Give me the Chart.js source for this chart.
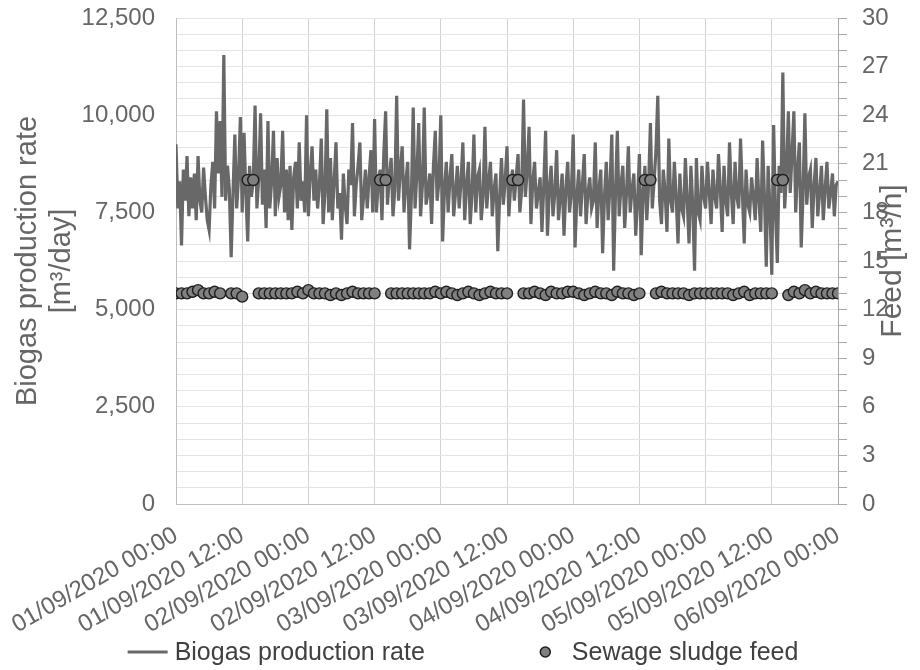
<!DOCTYPE html>
<html>
<head>
<meta charset="utf-8">
<title>Biogas production and sludge feed</title>
<script src="https://cdn.jsdelivr.net/npm/chart.js@4.4.1/dist/chart.umd.min.js"></script>
<style>
  html, body { margin: 0; padding: 0; background: #ffffff; }
  #wrap { width: 920px; height: 670px; }
</style>
</head>
<body>
<div id="wrap"><canvas id="biogasChart" width="920" height="670"></canvas></div>
<script>
// time axis: hours since 01/09/2020 00:00, ticks every 12 h
const xTickLabels = [
  '01/09/2020 00:00', '01/09/2020 12:00', '02/09/2020 00:00', '02/09/2020 12:00',
  '03/09/2020 00:00', '03/09/2020 12:00', '04/09/2020 00:00', '04/09/2020 12:00',
  '05/09/2020 00:00', '05/09/2020 12:00', '06/09/2020 00:00'
];
const biogasStepHours = 1 / 3;   // 20 min readings
const feedStepHours = 1;

// biogas production rate [m3/day], one row = 8 hours
const biogasRate = [
  9250, 7600, 8300, 6650, 8600, 7800, 8950, 7400, 8400, 7600, 8500, 7300, 8950, 7800, 7500, 8650, 7900, 7300, 7050, 8200, 8800, 7600, 10100, 8500,
  9850, 7900, 11550, 7800, 8700, 8100, 6350, 8000, 9500, 7600, 8400, 9950, 7500, 9550, 8000, 6750, 8700, 7900, 8300, 10250, 7600, 8400, 10050, 7700,
  8600, 7100, 9850, 7600, 8300, 9600, 7400, 8900, 7900, 8200, 9600, 7500, 8600, 7300, 8700, 7050, 8400, 8800, 7600, 9300, 7800, 8300, 7500, 10000,
  7400, 8500, 9200, 7800, 8600, 7600, 8200, 9400, 7200, 8000, 10150, 7500, 8900, 7300, 8300, 9300, 7600, 8000, 6800, 8500, 7700, 7200, 8600, 8200,
  9800, 7400, 8200, 8700, 9300, 7300, 7900, 8600, 7600, 8400, 9100, 7500, 9900, 7500, 8300, 8600, 7300, 9000, 10100, 7700, 8400, 8900, 7400, 8100,
  10500, 7800, 8600, 9200, 7500, 8300, 8800, 6550, 7900, 10200, 7600, 8500, 9800, 7400, 8200, 10200, 7700, 8000, 8500, 7200, 8700, 9600, 7800, 8300,
  10000, 6750, 8100, 8800, 7500, 8400, 9000, 7400, 8000, 8700, 7600, 8300, 9300, 7300, 8200, 8800, 7200, 8000, 9500, 7500, 8400, 8600, 7300, 7900,
  9700, 7600, 8300, 8800, 7400, 8100, 8500, 6500, 7900, 8900, 7700, 8300, 9200, 7400, 8200, 8600, 7800, 8400, 9000, 7500, 8100, 10400, 7900, 8600,
  9700, 7200, 8300, 8800, 7600, 8000, 8400, 7000, 8200, 9600, 6900, 8100, 8700, 7400, 8000, 9100, 7300, 7900, 8500, 6900, 8100, 8800, 7500, 8000,
  9500, 6600, 7900, 8600, 7400, 8200, 9000, 7200, 8000, 8400, 7600, 7800, 9300, 7100, 8100, 8600, 6450, 7900, 8800, 7300, 8200, 9500, 6000, 8000,
  9600, 7400, 8200, 8700, 7100, 8000, 9200, 7500, 8100, 8500, 6900, 7800, 9000, 6400, 8000, 8700, 7300, 8200, 9800, 7600, 8300, 9100, 10500, 7800,
  7200, 8600, 8000, 7000, 9400, 7800, 7500, 8800, 7900, 6700, 8500, 7600, 7400, 8900, 7800, 6700, 8700, 7700, 6000, 8900, 7500, 7300, 8700, 7900,
  7600, 8800, 8000, 7200, 8600, 7900, 7600, 9000, 8100, 7000, 8700, 7800, 7400, 9300, 8000, 7200, 8800, 7900, 7600, 9400, 8000, 6700, 8600, 7700,
  7500, 8400, 7900, 7300, 8900, 7800, 7000, 9350, 7900, 6100, 8700, 7600, 5900, 9750, 7500, 6200, 8700, 8000, 11100, 7600, 8500, 10100, 8000, 9000,
  10100, 7500, 8600, 9300, 6600, 8000, 10050, 7700, 8400, 8600, 7100, 8200, 8900, 7400, 8000, 8700, 7300, 8100, 8800, 7600, 8000, 8500, 7400, 8200,
  8300
];

// sewage sludge feed [m3/h], hourly (null = no reading)
const sludgeFeed = [
  13.0, 13.0, 13.0, 13.1, 13.2, 13.0, 13.0, 13.1, 13.0, null, 13.0, 13.0, 12.8, 20, 20, 13.0, 13.0, 13.0, 13.0, 13.0, 13.0, 13.0, 13.1, 13.0,
  13.2, 13.0, 13.0, 13.0, 12.9, 13.0, 12.9, 13.0, 13.1, 13.0, 13.0, 13.0, 13.0, 20, 20, 13.0, 13.0, 13.0, 13.0, 13.0, 13.0, 13.0, 13.0, 13.1,
  13.0, 13.1, 13.0, 12.9, 13.0, 13.1, 13.0, 12.9, 13.0, 13.1, 13.0, 13.0, 13.0, 20, 20, 13.0, 13.0, 13.1, 13.0, 12.9, 13.1, 13.0, 13.0, 13.1,
  13.1, 13.0, 12.9, 13.0, 13.1, 13.0, 13.0, 12.9, 13.1, 13.0, 13.0, 12.9, 13.0, 20, 20, 13.0, 13.1, 13.0, 13.0, 13.0, 13.0, 12.9, 13.0, 13.0,
  13.0, 13.0, 13.0, 13.0, 13.0, 12.9, 13.0, 13.1, 12.9, 13.0, 13.0, 13.0, 13.0, 20, 20, 12.9, 13.1, 13.0, 13.2, 13.0, 13.1, 13.0, 13.0, 13.0,
  13.0
];

const leftTitle = ['Biogas production rate', '[m³/day]'];
const rightTitle = 'Feed [m³/h]';

const FONT = '"Liberation Sans", Arial, sans-serif';
const TEXT = '#666666';

const biogasPoints = biogasRate.map((v, i) => ({ x: i * biogasStepHours, y: v }));
const feedPoints = sludgeFeed
  .map((v, i) => ({ x: i * feedStepHours, y: v }))
  .filter(p => p.y !== null);

// right-hand title (reads bottom to top) and the legend row
const extras = {
  id: 'extras',
  afterDraw(chart) {
    const { ctx, chartArea } = chart;
    const y1 = chart.scales.y1;

    ctx.save();
    ctx.translate(y1.right - 27, (chartArea.top + chartArea.bottom) / 2);
    ctx.rotate(-Math.PI / 2);
    ctx.font = '30px ' + FONT;
    ctx.fillStyle = TEXT;
    ctx.textAlign = 'center';
    ctx.textBaseline = 'middle';
    ctx.fillText(rightTitle, 0, 0);
    ctx.restore();

    const ds = chart.data.datasets;
    const lineDs = ds.find(d => d.showLine !== false);
    const dotDs = ds.find(d => d.showLine === false);

    ctx.save();
    ctx.font = '25px ' + FONT;
    ctx.fillStyle = '#404040';
    ctx.textBaseline = 'middle';
    const w1 = ctx.measureText(lineDs.label).width;
    const w2 = ctx.measureText(dotDs.label).width;
    const total = 40 + 7 + w1 + 115 + 11 + 21 + w2;
    let x = (chart.width - total) / 2 + 3;
    const y = 652;

    ctx.strokeStyle = lineDs.borderColor;
    ctx.lineWidth = 3;
    ctx.beginPath();
    ctx.moveTo(x, y);
    ctx.lineTo(x + 40, y);
    ctx.stroke();
    x += 47;
    ctx.fillText(lineDs.label, x, y + 1);
    x += w1 + 115 + 5.5;

    ctx.beginPath();
    ctx.arc(x, y, 5, 0, Math.PI * 2);
    ctx.fillStyle = dotDs.backgroundColor;
    ctx.fill();
    ctx.lineWidth = 1.5;
    ctx.strokeStyle = dotDs.borderColor;
    ctx.stroke();
    x += 5.5 + 21;
    ctx.fillStyle = '#404040';
    ctx.fillText(dotDs.label, x, y + 1);
    ctx.restore();
  }
};

new Chart(document.getElementById('biogasChart'), {
  type: 'line',
  data: {
    datasets: [
      {
        label: 'Sewage sludge feed',
        data: feedPoints,
        yAxisID: 'y1',
        showLine: false,
        pointRadius: 5.5,
        pointBackgroundColor: '#808080',
        pointBorderColor: '#1e1e1e',
        pointBorderWidth: 1.4,
        backgroundColor: '#808080',
        borderColor: '#1e1e1e',
        order: 0
      },
      {
        label: 'Biogas production rate',
        data: biogasPoints,
        yAxisID: 'y',
        borderColor: '#686868',
        borderWidth: 3.2,
        pointRadius: 0,
        tension: 0,
        order: 1
      }
    ]
  },
  options: {
    responsive: false,
    animation: false,
    events: [],
    layout: { padding: { top: 18, left: 0, right: 0, bottom: 28 } },
    plugins: {
      legend: { display: false },
      tooltip: { enabled: false }
    },
    scales: {
      x: {
        type: 'linear',
        min: 0,
        max: 120,
        // tall enough that the slanted date labels are not clipped;
        // the labels may hang under the left axis without shifting the plot
        afterFit(scale) {
          scale.height = 138;
          scale.paddingLeft = 0;
          scale.paddingRight = 0;
        },
        afterBuildTicks(scale) {
          scale.ticks = xTickLabels.map((_, i) => ({ value: i * 12 }));
        },
        ticks: {
          autoSkip: false,
          minRotation: 30,
          maxRotation: 30,
          padding: 17,
          color: TEXT,
          font: { family: FONT, size: 24 },
          callback: v => xTickLabels[Math.round(v / 12)]
        },
        grid: { color: '#d2d2d2', drawTicks: false },
        border: { color: '#bdbdbd' }
      },
      y: {
        position: 'left',
        min: 0,
        max: 12500,
        afterFit(scale) { scale.width = 176; },
        ticks: {
          stepSize: 2500,
          padding: 4,
          color: TEXT,
          font: { family: FONT, size: 24, lineHeight: 0.2 },
          callback: v => v.toLocaleString('en-US')
        },
        // invisible tick marks keep the labels clear of the axis line
        grid: { color: '#cdcdcd', tickColor: 'rgba(0,0,0,0)', tickLength: 17 },
        border: { color: '#bdbdbd' },
        title: {
          display: true,
          text: leftTitle,
          color: TEXT,
          font: { family: FONT, size: 29, lineHeight: 1.17 },
          padding: { top: 11, bottom: 0 }
        }
      },
      y1: {
        position: 'right',
        min: 0,
        max: 30,
        afterFit(scale) { scale.width = 82; },
        ticks: {
          stepSize: 1,
          autoSkip: false,
          padding: 15,
          color: TEXT,
          font: { family: FONT, size: 24, lineHeight: 0.2 },
          callback: v => (v % 3 === 0 ? String(v) : '')
        },
        grid: { color: '#e4e4e4', tickColor: '#a8a8a8', tickLength: 9 },
        border: { color: '#a8a8a8' }
      }
    }
  },
  plugins: [extras]
});
</script>
</body>
</html>
